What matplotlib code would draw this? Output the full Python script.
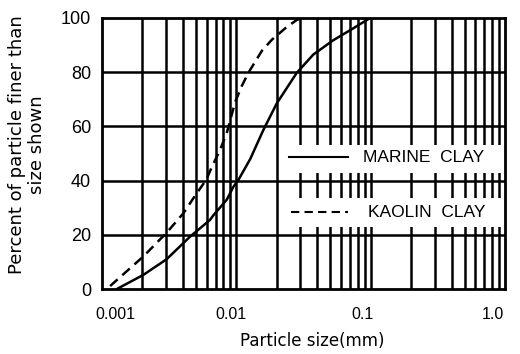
import numpy as np
import matplotlib
matplotlib.use("Agg")
import matplotlib.pyplot as plt
import matplotlib.transforms as mtransforms
from matplotlib.patches import Rectangle

plt.rcParams['font.family'] = ['Liberation Sans', 'DejaVu Sans']

# grain size curves (size in mm, percent finer)
marine_size = [0.00129, 0.00203, 0.00303, 0.00452, 0.00637, 0.0067, 0.0085, 0.0095,
               0.01035, 0.0127, 0.0159, 0.02, 0.0282, 0.0374, 0.0527, 0.0743, 0.099]
marine_pct = [0, 5.2, 11.0, 19.3, 25.5, 27.0, 33.0, 37.7,
              40.2, 48.0, 58.7, 68.5, 79.8, 86.5, 91.8, 96.2, 100]

kaolin_size = [0.00115, 0.00203, 0.00303, 0.00403, 0.00479, 0.0060, 0.0065, 0.00756,
               0.0085, 0.0098, 0.011, 0.0123, 0.0155, 0.0184, 0.0235, 0.0282, 0.031]
kaolin_pct = [1.1, 12.0, 20.8, 27.9, 33.5, 40.5, 44.5, 51.3,
              57.7, 69.0, 75.0, 79.8, 87.9, 92.0, 96.5, 99.3, 100]

xticks = [0.001, 0.01, 0.1, 1.0]
xticklabels = ['0.001', '0.01', '0.1', '1.0']
yticks = [0, 20, 40, 60, 80, 100]

fig = plt.figure(figsize=(5.2, 3.54), dpi=100)
ax = fig.add_axes([102/520, 65/354, 403/520, 271/354])
ax.set_xscale('log')
ax.set_xlim(0.001, 1.0)
ax.set_ylim(0, 100)

# vertical grid at every log subdivision, horizontal every 20%
for dec in [0.001, 0.01, 0.1]:
    for m in range(1, 10):
        if dec == 0.001 and m == 1:
            continue
        ax.axvline(dec*m, color='black', lw=1.8, zorder=1)
for y in [20, 40, 60, 80]:
    ax.axhline(y, color='black', lw=1.8, zorder=1)

ax.plot(marine_size, marine_pct, color='black', lw=1.8, zorder=2,
        solid_joinstyle='round', solid_capstyle='round')
ax.plot(kaolin_size, kaolin_pct, color='black', lw=1.8, ls=(0, (4, 2.5)), zorder=2)

# legend drawn on two white bands like in the original
for y0, y1 in [(0.428, 0.531), (0.229, 0.336)]:
    ax.add_patch(Rectangle((0.46, y0), 0.535, y1 - y0, transform=ax.transAxes,
                           facecolor='white', edgecolor='none', zorder=3))
ax.plot([0.463, 0.61], [0.487, 0.487], transform=ax.transAxes, color='black', lw=1.5, zorder=4)
ax.plot([0.468, 0.61], [0.284, 0.284], transform=ax.transAxes, color='black', lw=1.5,
        ls=(0, (4, 2.5)), zorder=4)
ax.text(0.648, 0.487, 'MARINE  CLAY', transform=ax.transAxes, fontsize=12.5,
        va='center', ha='left', zorder=5)
ax.text(0.66, 0.284, 'KAOLIN  CLAY', transform=ax.transAxes, fontsize=12.5,
        va='center', ha='left', zorder=5)

for s in ax.spines.values():
    s.set_linewidth(2)
    s.set_zorder(6)

ax.set_xticks(xticks)
ax.set_xticklabels(xticklabels)
ax.xaxis.set_minor_locator(plt.NullLocator())
ax.set_yticks(yticks)
ax.tick_params(length=0)
ax.tick_params(axis='x', pad=13, labelsize=11.5)
ax.tick_params(axis='y', pad=8, labelsize=13)

# the printed x labels sit a bit off their gridlines
for lab, dx in zip(ax.get_xticklabels(), [13, -5, -8, -12]):
    lab.set_transform(lab.get_transform() +
                      mtransforms.ScaledTranslation(dx/100, 0, fig.dpi_scale_trans))

ax.set_xlabel('Particle size(mm)', fontsize=12, family='DejaVu Sans')
ax.xaxis.set_label_coords((312 - 102)/403, -0.16)
ax.set_ylabel('Percent of particle finer than\nsize shown', fontsize=13,
              family='DejaVu Sans', linespacing=1.1)
ax.yaxis.set_label_coords(-0.14, 0.531)

fig.savefig('out.png', dpi=100)
